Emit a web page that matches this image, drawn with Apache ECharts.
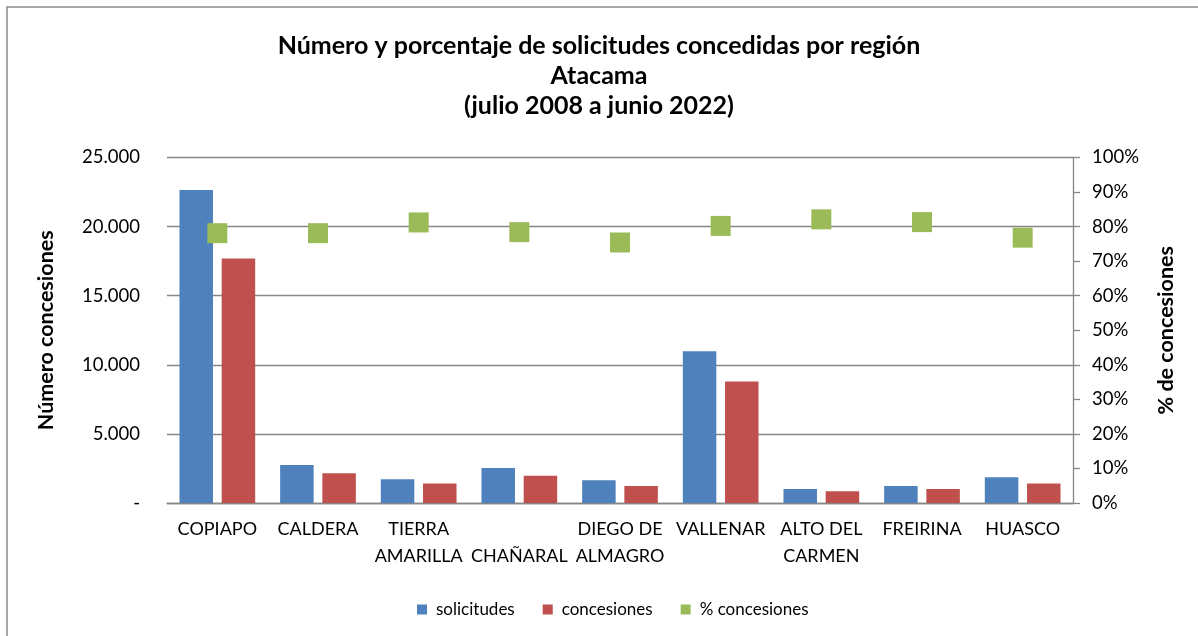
<!DOCTYPE html>
<html>
<head>
<meta charset="utf-8">
<script src="https://cdn.jsdelivr.net/npm/echarts@6/dist/echarts.min.js"></script>
<style>
html,body{margin:0;padding:0;background:#fff;}
#chart{width:1198px;height:636px;}
</style>
</head>
<body>
<div id="chart"></div>
<script>
var categories = ['COPIAPO', 'CALDERA', 'TIERRA\nAMARILLA', '\nCHAÑARAL', 'DIEGO DE\nALMAGRO', 'VALLENAR', 'ALTO DEL\nCARMEN', 'FREIRINA', 'HUASCO'];
var solicitudes = [22650, 2750, 1710, 2530, 1640, 10980, 1010, 1230, 1860];
var concesiones = [17700, 2150, 1420, 1980, 1230, 8800, 850, 1010, 1420];
var pctConcesiones = [0.781, 0.781, 0.812, 0.784, 0.754, 0.802, 0.821, 0.813, 0.768];
var titleLines = ['Número y porcentaje de solicitudes concedidas por región', 'Atacama', '(julio 2008 a junio 2022)'];

var FONT = 'Lato';
var chart = echarts.init(document.getElementById('chart'), null, {renderer: 'canvas'});
chart.setOption({
  animation: false,
  backgroundColor: '#fff',
  textStyle: {fontFamily: FONT},
  graphic: [{
    type: 'rect',
    shape: {x: 7, y: 7, width: 1220, height: 660},
    style: {fill: 'none', stroke: '#8a8a8a', lineWidth: 1.5},
    silent: true
  }],
  title: {
    text: titleLines.join('\n'),
    left: 'center',
    top: 26,
    textStyle: {fontFamily: FONT, fontSize: 25, fontWeight: 'bold', color: '#000', lineHeight: 30}
  },
  legend: {
    left: 412,
    top: 596,
    itemWidth: 10,
    itemHeight: 10,
    itemGap: 28,
    icon: 'rect',
    textStyle: {fontFamily: FONT, fontSize: 17, color: '#000', padding: [0, 0, 0, 4]},
    data: ['solicitudes', 'concesiones', '% concesiones']
  },
  grid: {left: 167, right: 125, top: 157.5, bottom: 133, containLabel: false},
  xAxis: {
    type: 'category',
    data: categories,
    axisLine: {show: true, lineStyle: {color: '#868686', width: 1.3}},
    axisTick: {show: false},
    axisLabel: {interval: 0, fontFamily: FONT, fontSize: 18, color: '#000', lineHeight: 27, margin: 13, verticalAlign: 'top'}
  },
  yAxis: [{
    type: 'value',
    min: 0, max: 25000, interval: 5000,
    name: 'Número concesiones',
    nameLocation: 'middle',
    nameRotate: 90,
    nameGap: 110,
    nameTextStyle: {fontFamily: FONT, fontSize: 21.5, fontWeight: 'bold', color: '#000'},
    axisLine: {show: false},
    axisTick: {show: false},
    splitLine: {show: true, lineStyle: {color: '#868686', width: 1.3}},
    axisLabel: {
      fontFamily: FONT, fontSize: 18.5, color: '#000', margin: 27,
      formatter: function (v) { return v === 0 ? '-' : v.toString().replace(/\B(?=(\d{3})+(?!\d))/g, '.'); }
    }
  }, {
    type: 'value',
    min: 0, max: 1, interval: 0.1,
    position: 'right',
    name: '% de concesiones',
    nameLocation: 'middle',
    nameRotate: 90,
    nameGap: 82,
    nameTextStyle: {fontFamily: FONT, fontSize: 21.5, fontWeight: 'bold', color: '#000'},
    axisLine: {show: true, lineStyle: {color: '#868686', width: 1.3}},
    axisTick: {show: true, length: 7, inside: false, lineStyle: {color: '#868686', width: 1.3}},
    splitLine: {show: false},
    axisLabel: {
      fontFamily: FONT, fontSize: 18.5, color: '#000', margin: 19,
      formatter: function (v) { return Math.round(v * 100) + '%'; }
    }
  }],
  series: [{
    name: 'solicitudes',
    type: 'bar',
    data: solicitudes,
    barWidth: 33.5,
    barGap: '26%',
    itemStyle: {color: '#4F81BD'}
  }, {
    name: 'concesiones',
    type: 'bar',
    data: concesiones,
    barWidth: 33.5,
    itemStyle: {color: '#C0504D'}
  }, {
    name: '% concesiones',
    type: 'scatter',
    yAxisIndex: 1,
    data: pctConcesiones,
    symbol: 'rect',
    symbolSize: 20,
    itemStyle: {color: '#9BBB59', opacity: 1},
    z: 5
  }]
});
</script>
</body>
</html>
